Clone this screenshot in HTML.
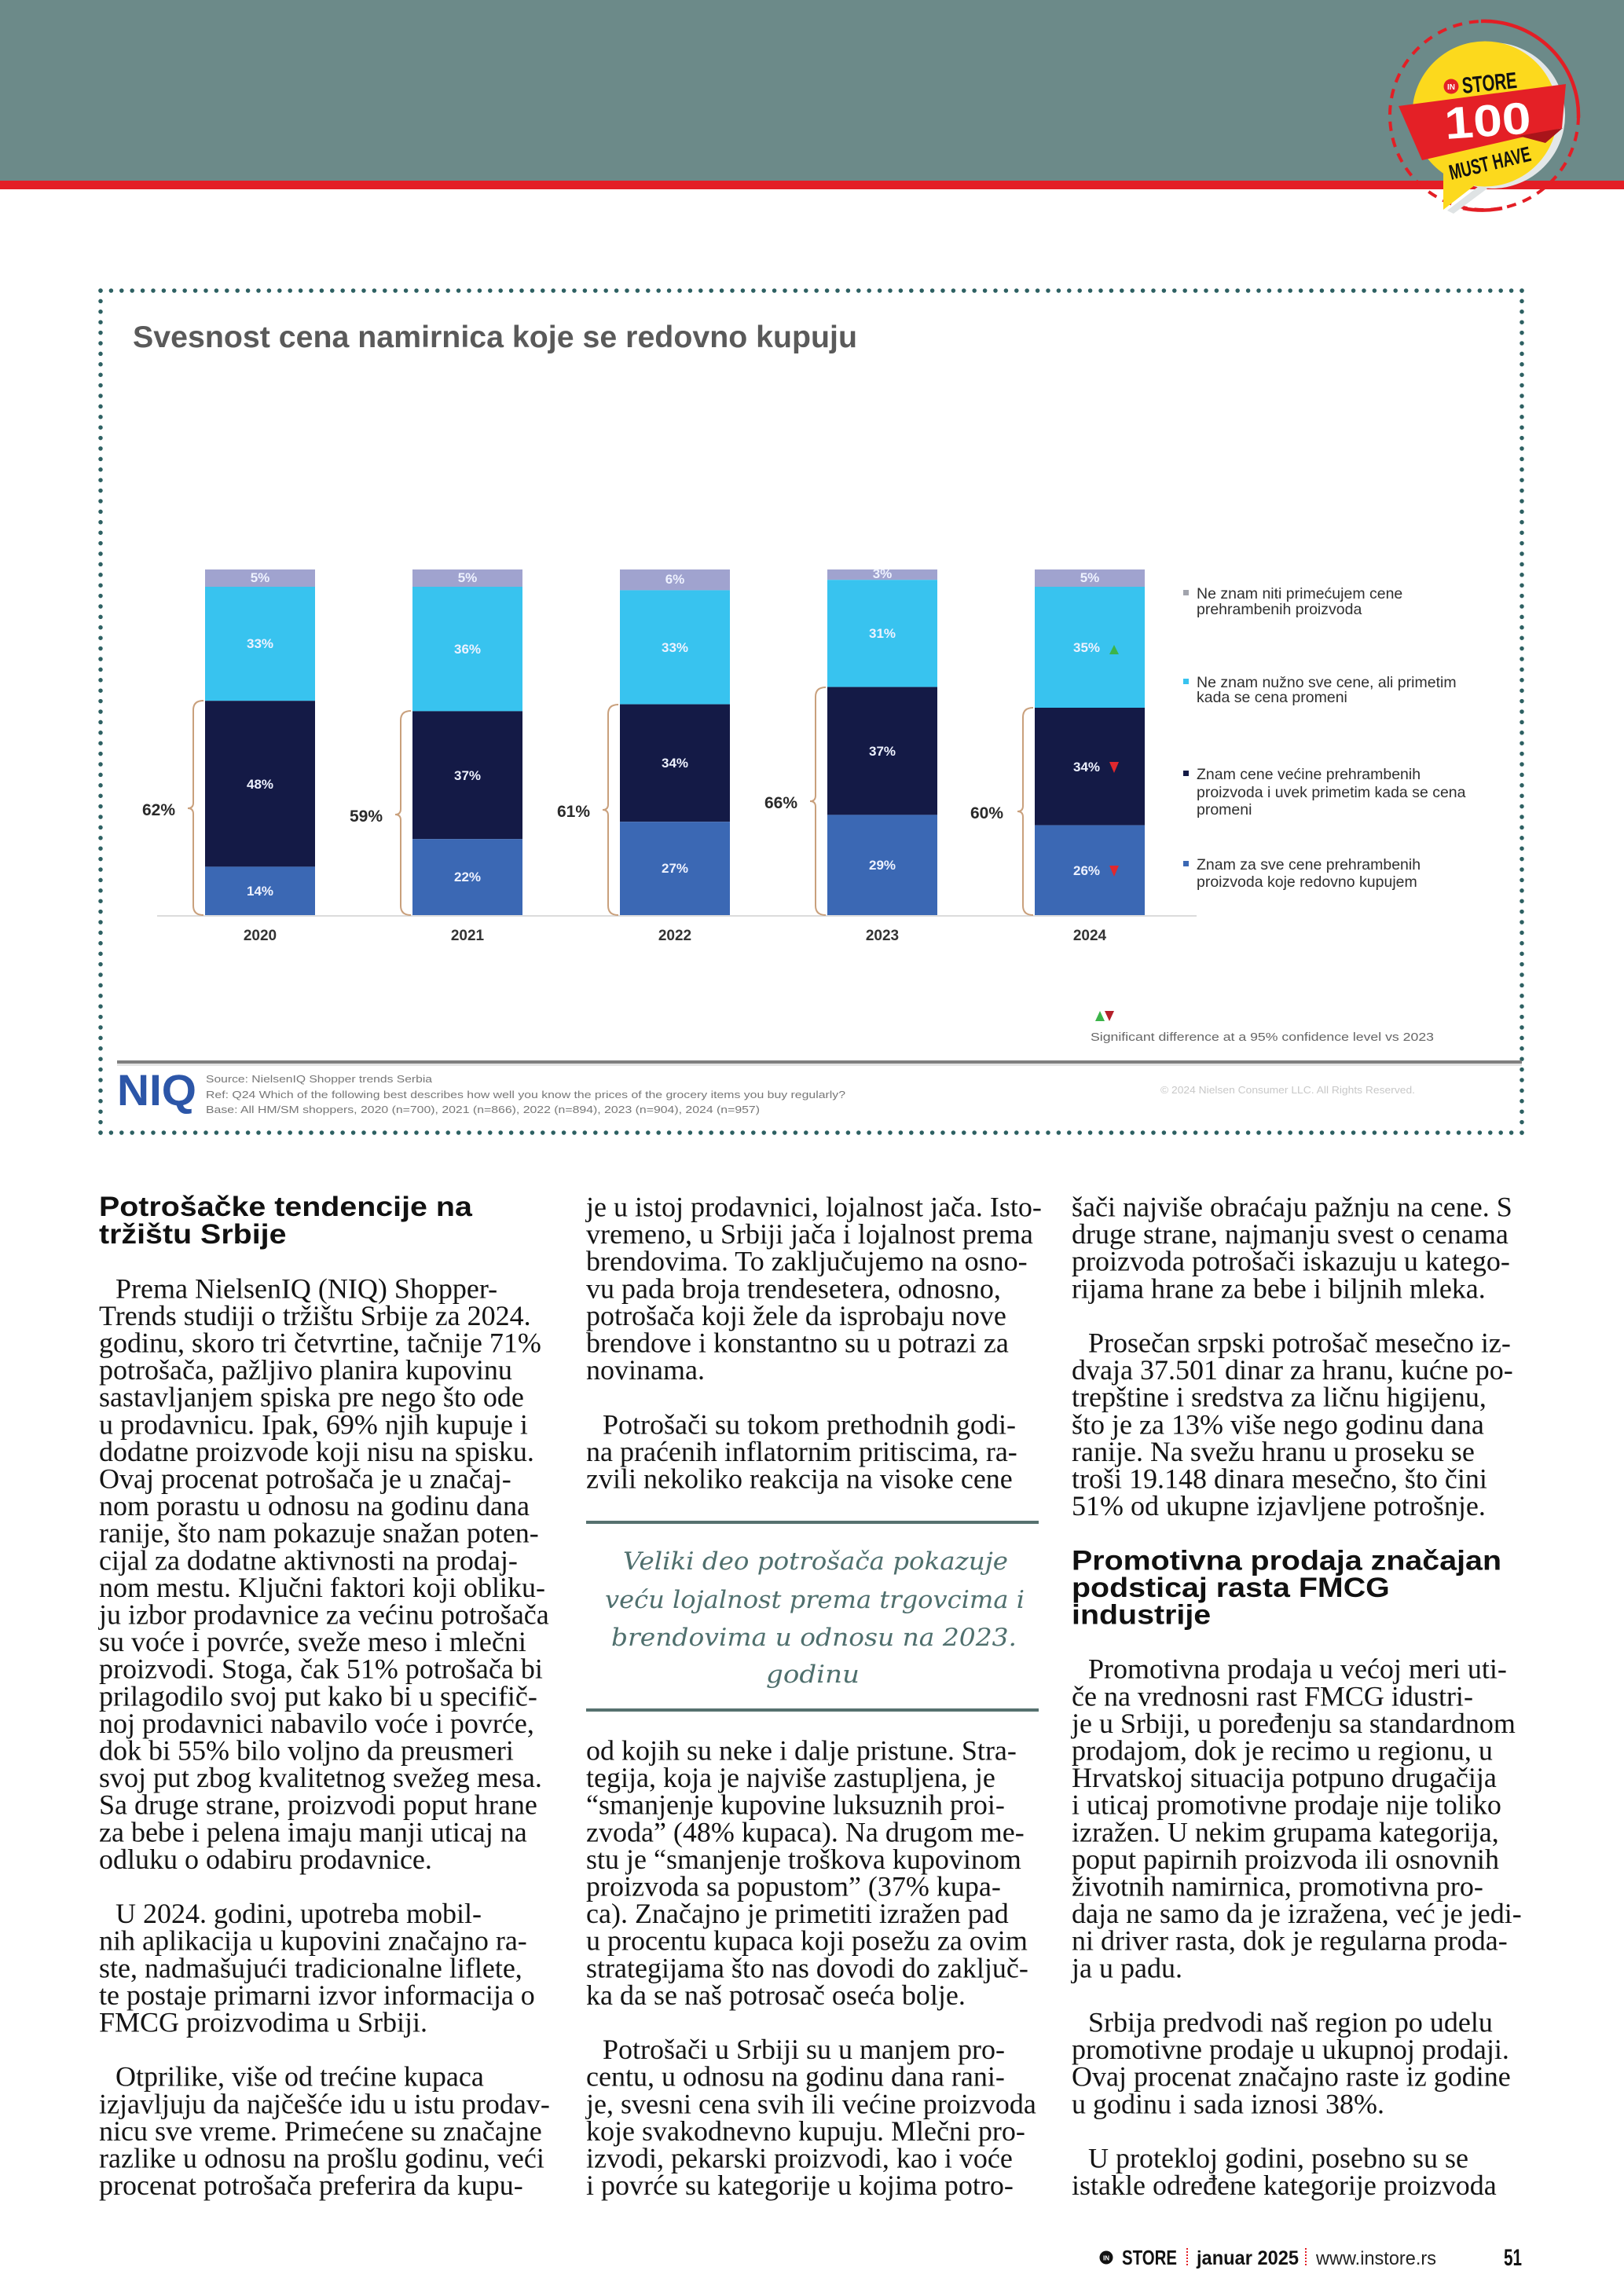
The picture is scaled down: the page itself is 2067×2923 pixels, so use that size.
<!DOCTYPE html>
<html>
<head>
<meta charset="utf-8">
<style>
html,body{margin:0;padding:0;background:#fff;}
body{width:2067px;height:2923px;overflow:hidden;}
svg{display:block;}
.b{font-family:"Liberation Serif",serif;font-size:36px;fill:#141414;}
.h{font-family:"Liberation Sans",sans-serif;font-weight:bold;font-size:35px;fill:#111;}
.q{font-family:"DejaVu Serif","Liberation Serif",serif;font-style:italic;font-size:31px;fill:#4f6f6d;}
.v{font-family:"Liberation Sans",sans-serif;font-size:17px;font-weight:bold;fill:#eef2ff;text-anchor:middle;}
.yr{font-family:"Liberation Sans",sans-serif;font-weight:bold;font-size:19px;fill:#333;text-anchor:middle;}
.br{font-family:"Liberation Sans",sans-serif;font-weight:bold;font-size:21px;fill:#2a2a2a;text-anchor:end;}
.lg{font-family:"Liberation Sans",sans-serif;font-size:19.5px;fill:#2f2f2f;}
.sm{font-family:"Liberation Sans",sans-serif;font-size:13px;fill:#777;}
</style>
</head>
<body>
<svg width="2067" height="2923" viewBox="0 0 2067 2923" xmlns="http://www.w3.org/2000/svg">
<!-- header -->
<rect x="0" y="0" width="2067" height="230" fill="#6c8a89"/>
<rect x="0" y="230" width="2067" height="11" fill="#e31e25"/>

<!-- badge -->
<circle cx="1889" cy="147" r="120" fill="none" stroke="#e31e25" stroke-width="4" stroke-dasharray="12 9"/>
<path d="M1885,27 A120,120 0 0 1 2009,150" fill="none" stroke="#e31e25" stroke-width="4.5"/>
<path d="M1862,265 A120,120 0 0 0 1912,265" fill="none" stroke="#e31e25" stroke-width="4.5"/>
<circle cx="1899" cy="147" r="93" fill="#e4e8e9"/>
<polygon points="1842,268 1886,234 1893,240 1850,272" fill="#dfe3e4"/>
<circle cx="1890" cy="145" r="92.5" fill="#fcd91d"/>
<polygon points="1837,185 1837,267 1882,232 1870,200" fill="#fcd91d"/>
<polygon points="1780,135 1993,107 1988,163 1810,204" fill="#e42026"/>
<polygon points="1933,173 1989,163 1967,182" fill="#a9141a"/>
<circle cx="1847" cy="110" r="9.5" fill="#e42026"/>
<text x="1847" y="114" font-family="Liberation Sans,sans-serif" font-weight="bold" font-size="10" fill="#fff" text-anchor="middle">IN</text>
<text x="1862" y="119" font-family="Liberation Sans,sans-serif" font-weight="bold" font-size="29" fill="#111" textLength="70" lengthAdjust="spacingAndGlyphs" transform="rotate(-6 1862 119)">STORE</text>
<text x="1840" y="177" font-family="Liberation Sans,sans-serif" font-weight="bold" font-size="57" fill="#fff" textLength="110" lengthAdjust="spacingAndGlyphs" transform="rotate(-4 1840 177)">100</text>
<text x="1847" y="229" font-family="Liberation Sans,sans-serif" font-weight="bold" font-size="27" fill="#111" textLength="106" lengthAdjust="spacingAndGlyphs" transform="rotate(-13.5 1847 229)">MUST HAVE</text>

<!-- dotted frame -->
<g stroke="#2d6062" stroke-width="5.5" stroke-linecap="round" stroke-dasharray="0 13.4" fill="none">
<path d="M128,370 H1937"/>
<path d="M128,1442 H1937"/>
<path d="M128,370 V1442"/>
<path d="M1937,370 V1442"/>
</g>

<!-- chart title -->
<text x="169" y="442" font-family="Liberation Sans,sans-serif" font-weight="bold" font-size="39" fill="#5a5a5a" textLength="922" lengthAdjust="spacingAndGlyphs">Svesnost cena namirnica koje se redovno kupuju</text>

<!-- axis line -->
<rect x="200" y="1165" width="1323" height="2" fill="#dcdcdc"/>

<!-- bars -->
<g>
<rect x="261" y="725" width="140" height="22" fill="#a0a3cf"/>
<rect x="261" y="747" width="140" height="145.2" fill="#38c3ef"/>
<rect x="261" y="892.2" width="140" height="211.2" fill="#141a46"/>
<rect x="261" y="1103.4" width="140" height="61.6" fill="#3b68b4"/>
<rect x="525" y="725" width="140" height="22" fill="#a0a3cf"/>
<rect x="525" y="747" width="140" height="158.4" fill="#38c3ef"/>
<rect x="525" y="905.4" width="140" height="162.8" fill="#141a46"/>
<rect x="525" y="1068.2" width="140" height="96.8" fill="#3b68b4"/>
<rect x="789" y="725" width="140" height="26.4" fill="#a0a3cf"/>
<rect x="789" y="751.4" width="140" height="145.2" fill="#38c3ef"/>
<rect x="789" y="896.6" width="140" height="149.6" fill="#141a46"/>
<rect x="789" y="1046.2" width="140" height="118.8" fill="#3b68b4"/>
<rect x="1053" y="725" width="140" height="13.2" fill="#a0a3cf"/>
<rect x="1053" y="738.2" width="140" height="136.4" fill="#38c3ef"/>
<rect x="1053" y="874.6" width="140" height="162.8" fill="#141a46"/>
<rect x="1053" y="1037.4" width="140" height="127.6" fill="#3b68b4"/>
<rect x="1317" y="725" width="140" height="22" fill="#a0a3cf"/>
<rect x="1317" y="747" width="140" height="154" fill="#38c3ef"/>
<rect x="1317" y="901" width="140" height="149.6" fill="#141a46"/>
<rect x="1317" y="1050.6" width="140" height="114.4" fill="#3b68b4"/>
</g>

<!-- value labels -->
<g>
<text class="v" x="331" y="741" font-size="14">5%</text>
<text class="v" x="331" y="825">33%</text>
<text class="v" x="331" y="1004">48%</text>
<text class="v" x="331" y="1140">14%</text>

<text class="v" x="595" y="741" font-size="14">5%</text>
<text class="v" x="595" y="832">36%</text>
<text class="v" x="595" y="993">37%</text>
<text class="v" x="595" y="1122">22%</text>

<text class="v" x="859" y="743" font-size="14">6%</text>
<text class="v" x="859" y="830">33%</text>
<text class="v" x="859" y="977">34%</text>
<text class="v" x="859" y="1111">27%</text>

<text class="v" x="1123" y="736" font-size="12">3%</text>
<text class="v" x="1123" y="812">31%</text>
<text class="v" x="1123" y="962">37%</text>
<text class="v" x="1123" y="1107">29%</text>

<text class="v" x="1387" y="741" font-size="14">5%</text>
<text class="v" x="1383" y="830">35%</text>
<text class="v" x="1383" y="982">34%</text>
<text class="v" x="1383" y="1114">26%</text>
<polygon points="1412,833 1424,833 1418,821" fill="#3cb44a"/>
<polygon points="1412,970 1424,970 1418,984" fill="#e0282e"/>
<polygon points="1412,1102 1424,1102 1418,1116" fill="#e0282e"/>
</g>

<!-- braces -->
<g fill="none" stroke="#c9a07c" stroke-width="2">
<path d="M259,892 Q246,892 246,904 L246,1022 Q246,1029 239,1029 Q246,1029 246,1036 L246,1153 Q246,1165 259,1165"/>
<path d="M523,905 Q510,905 510,917 L510,1030 Q510,1037 503,1037 Q510,1037 510,1044 L510,1153 Q510,1165 523,1165"/>
<path d="M787,897 Q774,897 774,909 L774,1024 Q774,1031 767,1031 Q774,1031 774,1038 L774,1153 Q774,1165 787,1165"/>
<path d="M1051,875 Q1038,875 1038,887 L1038,1013 Q1038,1020 1031,1020 Q1038,1020 1038,1027 L1038,1153 Q1038,1165 1051,1165"/>
<path d="M1315,901 Q1302,901 1302,913 L1302,1026 Q1302,1033 1295,1033 Q1302,1033 1302,1040 L1302,1153 Q1302,1165 1315,1165"/>
</g>
<text class="br" x="223" y="1038">62%</text>
<text class="br" x="487" y="1046">59%</text>
<text class="br" x="751" y="1040">61%</text>
<text class="br" x="1015" y="1029">66%</text>
<text class="br" x="1277" y="1042">60%</text>

<!-- years -->
<text class="yr" x="331" y="1197">2020</text>
<text class="yr" x="595" y="1197">2021</text>
<text class="yr" x="859" y="1197">2022</text>
<text class="yr" x="1123" y="1197">2023</text>
<text class="yr" x="1387" y="1197">2024</text>

<!-- legend -->
<rect x="1506" y="751" width="7" height="7" fill="#a2a4ad"/>
<text class="lg" x="1523" y="762">Ne znam niti primećujem cene</text>
<text class="lg" x="1523" y="782">prehrambenih proizvoda</text>
<rect x="1506" y="864" width="7" height="7" fill="#38c3ef"/>
<text class="lg" x="1523" y="875">Ne znam nužno sve cene, ali primetim</text>
<text class="lg" x="1523" y="894">kada se cena promeni</text>
<rect x="1506" y="981" width="7" height="7" fill="#141a46"/>
<text class="lg" x="1523" y="992">Znam cene većine prehrambenih</text>
<text class="lg" x="1523" y="1015">proizvoda i uvek primetim kada se cena</text>
<text class="lg" x="1523" y="1037">promeni</text>
<rect x="1506" y="1096" width="7" height="7" fill="#3b68b4"/>
<text class="lg" x="1523" y="1107">Znam za sve cene prehrambenih</text>
<text class="lg" x="1523" y="1129">proizvoda koje redovno kupujem</text>

<!-- significance -->
<polygon points="1394,1300 1406,1300 1400,1287" fill="#3cb44a"/>
<polygon points="1406,1287 1418,1287 1412,1300" fill="#b5202a"/>
<text x="1388" y="1325" font-family="Liberation Sans,sans-serif" font-size="15" fill="#666" textLength="437" lengthAdjust="spacingAndGlyphs">Significant difference at a 95% confidence level vs 2023</text>

<!-- NIQ footer -->
<rect x="149" y="1350" width="1788" height="4" fill="#7f7f7f"/>
<rect x="149" y="1354" width="1788" height="3" fill="#e4e4e4"/>
<text x="149" y="1407" font-family="Liberation Sans,sans-serif" font-weight="bold" font-size="56" fill="#2c56a8" textLength="101" lengthAdjust="spacingAndGlyphs">NIQ</text>
<text class="sm" x="262" y="1378" textLength="288" lengthAdjust="spacingAndGlyphs">Source: NielsenIQ Shopper trends Serbia</text>
<text class="sm" x="262" y="1398" textLength="814" lengthAdjust="spacingAndGlyphs">Ref: Q24 Which of the following best describes how well you know the prices of the grocery items you buy regularly?</text>
<text class="sm" x="262" y="1417" textLength="705" lengthAdjust="spacingAndGlyphs">Base: All HM/SM shoppers, 2020 (n=700), 2021 (n=866), 2022 (n=894), 2023 (n=904), 2024 (n=957)</text>
<text x="1477" y="1392" font-family="Liberation Sans,sans-serif" font-size="13" fill="#c8c8c8" textLength="324" lengthAdjust="spacingAndGlyphs">© 2024 Nielsen Consumer LLC. All Rights Reserved.</text>

<!-- COLUMN 1 -->
<g transform="translate(126,1548) scale(1.125,1)"><text class="h" x="0" y="0">Potrošačke tendencije na</text></g>
<g transform="translate(126,1583) scale(1.125,1)"><text class="h" x="0" y="0">tržištu Srbije</text></g>
<g class="b">
<text x="147" y="1652.3">Prema NielsenIQ (NIQ) Shopper-</text>
<text x="126" y="1686.9">Trends studiji o tržištu Srbije za 2024.</text>
<text x="126" y="1721.5">godinu, skoro tri četvrtine, tačnije 71%</text>
<text x="126" y="1756.1">potrošača, pažljivo planira kupovinu</text>
<text x="126" y="1790.7">sastavljanjem spiska pre nego što ode</text>
<text x="126" y="1825.3">u prodavnicu. Ipak, 69% njih kupuje i</text>
<text x="126" y="1859.9">dodatne proizvode koji nisu na spisku.</text>
<text x="126" y="1894.5">Ovaj procenat potrošača je u značaj-</text>
<text x="126" y="1929.1">nom porastu u odnosu na godinu dana</text>
<text x="126" y="1963.7">ranije, što nam pokazuje snažan poten-</text>
<text x="126" y="1998.3">cijal za dodatne aktivnosti na prodaj-</text>
<text x="126" y="2032.9">nom mestu. Ključni faktori koji obliku-</text>
<text x="126" y="2067.5">ju izbor prodavnice za većinu potrošača</text>
<text x="126" y="2102.1">su voće i povrće, sveže meso i mlečni</text>
<text x="126" y="2136.7">proizvodi. Stoga, čak 51% potrošača bi</text>
<text x="126" y="2171.3">prilagodilo svoj put kako bi u specifič-</text>
<text x="126" y="2205.9">noj prodavnici nabavilo voće i povrće,</text>
<text x="126" y="2240.5">dok bi 55% bilo voljno da preusmeri</text>
<text x="126" y="2275.1">svoj put zbog kvalitetnog svežeg mesa.</text>
<text x="126" y="2309.7">Sa druge strane, proizvodi poput hrane</text>
<text x="126" y="2344.3">za bebe i pelena imaju manji uticaj na</text>
<text x="126" y="2378.9">odluku o odabiru prodavnice.</text>

<text x="147" y="2448.1">U 2024. godini, upotreba mobil-</text>
<text x="126" y="2482.7">nih aplikacija u kupovini značajno ra-</text>
<text x="126" y="2517.3">ste, nadmašujući tradicionalne liflete,</text>
<text x="126" y="2551.9">te postaje primarni izvor informacija o</text>
<text x="126" y="2586.5">FMCG proizvodima u Srbiji.</text>

<text x="147" y="2655.7">Otprilike, više od trećine kupaca</text>
<text x="126" y="2690.3">izjavljuju da najčešće idu u istu prodav-</text>
<text x="126" y="2724.9">nicu sve vreme. Primećene su značajne</text>
<text x="126" y="2759.5">razlike u odnosu na prošlu godinu, veći</text>
<text x="126" y="2794.1">procenat potrošača preferira da kupu-</text>

<!-- COLUMN 2 -->
<text x="746" y="1548.5">je u istoj prodavnici, lojalnost jača. Isto-</text>
<text x="746" y="1583.1">vremeno, u Srbiji jača i lojalnost prema</text>
<text x="746" y="1617.7">brendovima. To zaključujemo na osno-</text>
<text x="746" y="1652.3">vu pada broja trendesetera, odnosno,</text>
<text x="746" y="1686.9">potrošača koji žele da isprobaju nove</text>
<text x="746" y="1721.5">brendove i konstantno su u potrazi za</text>
<text x="746" y="1756.1">novinama.</text>

<text x="767" y="1825.3">Potrošači su tokom prethodnih godi-</text>
<text x="746" y="1859.9">na praćenih inflatornim pritiscima, ra-</text>
<text x="746" y="1894.5">zvili nekoliko reakcija na visoke cene</text>

<text x="746" y="2240.5">od kojih su neke i dalje pristune. Stra-</text>
<text x="746" y="2275.1">tegija, koja je najviše zastupljena, je</text>
<text x="746" y="2309.7">“smanjenje kupovine luksuznih proi-</text>
<text x="746" y="2344.3">zvoda” (48% kupaca). Na drugom me-</text>
<text x="746" y="2378.9">stu je “smanjenje troškova kupovinom</text>
<text x="746" y="2413.5">proizvoda sa popustom” (37% kupa-</text>
<text x="746" y="2448.1">ca). Značajno je primetiti izražen pad</text>
<text x="746" y="2482.7">u procentu kupaca koji posežu za ovim</text>
<text x="746" y="2517.3">strategijama što nas dovodi do zaključ-</text>
<text x="746" y="2551.9">ka da se naš potrosač oseća bolje.</text>

<text x="767" y="2621.1">Potrošači u Srbiji su u manjem pro-</text>
<text x="746" y="2655.7">centu, u odnosu na godinu dana rani-</text>
<text x="746" y="2690.3">je, svesni cena svih ili većine proizvoda</text>
<text x="746" y="2724.9">koje svakodnevno kupuju. Mlečni pro-</text>
<text x="746" y="2759.5">izvodi, pekarski proizvodi, kao i voće</text>
<text x="746" y="2794.1">i povrće su kategorije u kojima potro-</text>

<!-- COLUMN 3 -->
<text x="1364" y="1548.5">šači najviše obraćaju pažnju na cene. S</text>
<text x="1364" y="1583.1">druge strane, najmanju svest o cenama</text>
<text x="1364" y="1617.7">proizvoda potrošači iskazuju u katego-</text>
<text x="1364" y="1652.3">rijama hrane za bebe i biljnih mleka.</text>

<text x="1385" y="1721.5">Prosečan srpski potrošač mesečno iz-</text>
<text x="1364" y="1756.1">dvaja 37.501 dinar za hranu, kućne po-</text>
<text x="1364" y="1790.7">trepštine i sredstva za ličnu higijenu,</text>
<text x="1364" y="1825.3">što je za 13% više nego godinu dana</text>
<text x="1364" y="1859.9">ranije. Na svežu hranu u proseku se</text>
<text x="1364" y="1894.5">troši 19.148 dinara mesečno, što čini</text>
<text x="1364" y="1929.1">51% od ukupne izjavljene potrošnje.</text>

<text x="1385" y="2136.7">Promotivna prodaja u većoj meri uti-</text>
<text x="1364" y="2171.3">če na vrednosni rast FMCG idustri-</text>
<text x="1364" y="2205.9">je u Srbiji, u poređenju sa standardnom</text>
<text x="1364" y="2240.5">prodajom, dok je recimo u regionu, u</text>
<text x="1364" y="2275.1">Hrvatskoj situacija potpuno drugačija</text>
<text x="1364" y="2309.7">i uticaj promotivne prodaje nije toliko</text>
<text x="1364" y="2344.3">izražen. U nekim grupama kategorija,</text>
<text x="1364" y="2378.9">poput papirnih proizvoda ili osnovnih</text>
<text x="1364" y="2413.5">životnih namirnica, promotivna pro-</text>
<text x="1364" y="2448.1">daja ne samo da je izražena, već je jedi-</text>
<text x="1364" y="2482.7">ni driver rasta, dok je regularna proda-</text>
<text x="1364" y="2517.3">ja u padu.</text>

<text x="1385" y="2586.5">Srbija predvodi naš region po udelu</text>
<text x="1364" y="2621.1">promotivne prodaje u ukupnoj prodaji.</text>
<text x="1364" y="2655.7">Ovaj procenat značajno raste iz godine</text>
<text x="1364" y="2690.3">u godinu i sada iznosi 38%.</text>

<text x="1385" y="2759.5">U protekloj godini, posebno su se</text>
<text x="1364" y="2794.1">istakle određene kategorije proizvoda</text>
</g>

<g transform="translate(1364,1998.3) scale(1.125,1)"><text class="h" x="0" y="0">Promotivna prodaja značajan</text></g>
<g transform="translate(1364,2032.9) scale(1.125,1)"><text class="h" x="0" y="0">podsticaj rasta FMCG</text></g>
<g transform="translate(1364,2067.5) scale(1.125,1)"><text class="h" x="0" y="0">industrije</text></g>

<!-- pull quote -->
<rect x="746" y="1936" width="576" height="4" fill="#56716f"/>
<rect x="746" y="2175" width="576" height="4" fill="#56716f"/>
<text class="q" x="793" y="1998" textLength="490" lengthAdjust="spacingAndGlyphs">Veliki deo potrošača pokazuje</text>
<text class="q" x="770" y="2047" textLength="534" lengthAdjust="spacingAndGlyphs">veću lojalnost prema trgovcima i</text>
<text class="q" x="778" y="2095" textLength="516" lengthAdjust="spacingAndGlyphs">brendovima u odnosu na 2023.</text>
<text class="q" x="975" y="2142" textLength="119" lengthAdjust="spacingAndGlyphs">godinu</text>

<!-- page footer -->
<circle cx="1408" cy="2874" r="8.5" fill="#111"/>
<text x="1408" y="2877.5" font-family="Liberation Sans,sans-serif" font-weight="bold" font-size="8" fill="#fff" text-anchor="middle">IN</text>
<text x="1428" y="2883" font-family="Liberation Sans,sans-serif" font-weight="bold" font-size="26" fill="#111" textLength="70" lengthAdjust="spacingAndGlyphs">STORE</text>
<path d="M1511,2862 V2886" stroke="#e31e25" stroke-width="2" stroke-dasharray="2 2"/>
<text x="1523" y="2883" font-family="Liberation Sans,sans-serif" font-weight="bold" font-size="25" fill="#111" textLength="130" lengthAdjust="spacingAndGlyphs">januar 2025</text>
<path d="M1662,2862 V2886" stroke="#e31e25" stroke-width="2" stroke-dasharray="2 2"/>
<text x="1675" y="2883" font-family="Liberation Sans,sans-serif" font-size="24" fill="#222" textLength="153" lengthAdjust="spacingAndGlyphs">www.instore.rs</text>
<text x="1914" y="2884" font-family="Liberation Sans,sans-serif" font-weight="bold" font-size="30" fill="#111" textLength="23" lengthAdjust="spacingAndGlyphs">51</text>
</svg>
</body>
</html>
